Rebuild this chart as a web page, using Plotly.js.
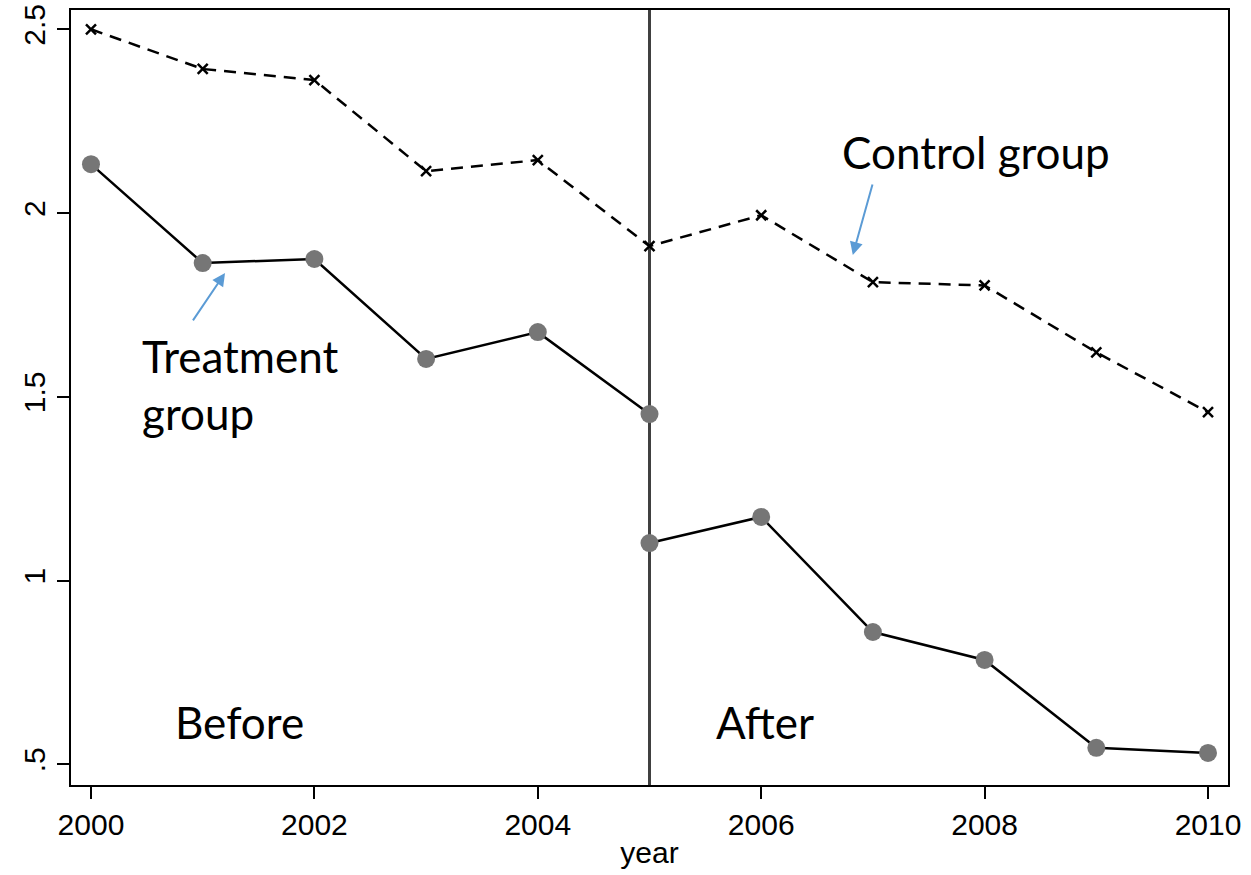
<!DOCTYPE html>
<html>
<head>
<meta charset="utf-8">
<script src="https://cdn.plot.ly/plotly-3.0.1.min.js"></script>
<style>html,body{margin:0;padding:0;background:#fff;}#chart{width:1251px;height:875px;}</style>
</head>
<body>
<div id="chart"></div>
<script>
const years = [2000, 2001, 2002, 2003, 2004, 2005, 2006, 2007, 2008, 2009, 2010];
const controlVals = [2.50, 2.392, 2.362, 2.114, 2.144, 1.910, 1.994, 1.812, 1.803, 1.621, 1.458];
const yearsBefore = [2000, 2001, 2002, 2003, 2004, 2005];
const treatBefore = [2.133, 1.864, 1.875, 1.603, 1.676, 1.453];
const yearsAfter = [2005, 2006, 2007, 2008, 2009, 2010];
const treatAfter = [1.102, 1.173, 0.860, 0.784, 0.545, 0.531];
const xTicks = [2000, 2002, 2004, 2006, 2008, 2010];
const yTicks = [0.5, 1, 1.5, 2, 2.5];
const yTickLabels = ['.5', '1', '1.5', '2', '2.5'];
const cutYear = 2005;

const annFont = {family: 'Lato, "Open Sans", sans-serif', size: 44, color: '#000'};
const arrowColor = '#5b9bd5';

const traces = [
  {x: years, y: controlVals, type: 'scatter', mode: 'lines+markers',
   line: {color: '#000', width: 2.5, dash: '12px,8px'},
   marker: {symbol: 'x-thin', size: 10, line: {color: '#000', width: 2.5}, color: '#000'},
   showlegend: false, hoverinfo: 'skip'},
  {x: yearsBefore, y: treatBefore, type: 'scatter', mode: 'lines+markers',
   line: {color: '#000', width: 2.5},
   marker: {symbol: 'circle', size: 18, color: '#767676'},
   showlegend: false, hoverinfo: 'skip'},
  {x: yearsAfter, y: treatAfter, type: 'scatter', mode: 'lines+markers',
   line: {color: '#000', width: 2.5},
   marker: {symbol: 'circle', size: 18, color: '#767676'},
   showlegend: false, hoverinfo: 'skip'}
];

const layout = {
  width: 1251, height: 875,
  margin: {l: 71, r: 23, t: 10, b: 90},
  paper_bgcolor: '#fff', plot_bgcolor: '#fff',
  font: {family: '"Liberation Sans", Arial, sans-serif', color: '#000'},
  xaxis: {
    range: [1999.821, 2010.179], tickvals: xTicks, ticktext: xTicks.map(String),
    showgrid: false, zeroline: false, showline: true, mirror: true,
    linecolor: '#000', linewidth: 2, ticks: 'outside', ticklen: 12, tickwidth: 2, tickcolor: '#000',
    tickfont: {size: 30}, title: {text: 'year', font: {size: 30}, standoff: 2}
  },
  yaxis: {
    range: [0.4437, 2.5525], tickvals: yTicks, ticktext: yTickLabels, tickangle: -90,
    showgrid: false, zeroline: false, showline: true, mirror: true,
    linecolor: '#000', linewidth: 2, ticks: 'outside', ticklen: 12, tickwidth: 2, tickcolor: '#000',
    tickfont: {size: 30}
  },
  shapes: [
    {type: 'line', xref: 'x', yref: 'paper', x0: cutYear, x1: cutYear, y0: 0, y1: 1,
     line: {color: '#404040', width: 3}, layer: 'below'}
  ],
  annotations: [
    {xref: 'x', yref: 'y', x: 2001.20, y: 1.837, ax: 2000.904, ay: 1.704, axref: 'x', ayref: 'y',
     text: '', showarrow: true, arrowhead: 2, arrowsize: 1.3, arrowwidth: 2, arrowcolor: arrowColor},
    {xref: 'x', yref: 'y', x: 2006.82, y: 1.886, ax: 2007.0, ay: 2.082, axref: 'x', ayref: 'y',
     text: '', showarrow: true, arrowhead: 2, arrowsize: 1.3, arrowwidth: 2, arrowcolor: arrowColor},
    {xref: 'paper', yref: 'paper', x: (140-71)/1157, y: (785-328)/775, xanchor: 'left', yanchor: 'top',
     text: 'Treatment<br>group', align: 'left', showarrow: false, font: annFont},
    {xref: 'paper', yref: 'paper', x: (976-71)/1157, y: (785-152)/775, xanchor: 'center', yanchor: 'middle',
     text: 'Control group', showarrow: false, font: annFont},
    {xref: 'paper', yref: 'paper', x: (239-71)/1157, y: (785-722)/775, xanchor: 'center', yanchor: 'middle',
     text: 'Before', showarrow: false, font: annFont},
    {xref: 'paper', yref: 'paper', x: (765-71)/1157, y: (785-722)/775, xanchor: 'center', yanchor: 'middle',
     text: 'After', showarrow: false, font: annFont}
  ]
};

Plotly.newPlot('chart', traces, layout, {displayModeBar: false, staticPlot: true});
</script>
</body>
</html>
